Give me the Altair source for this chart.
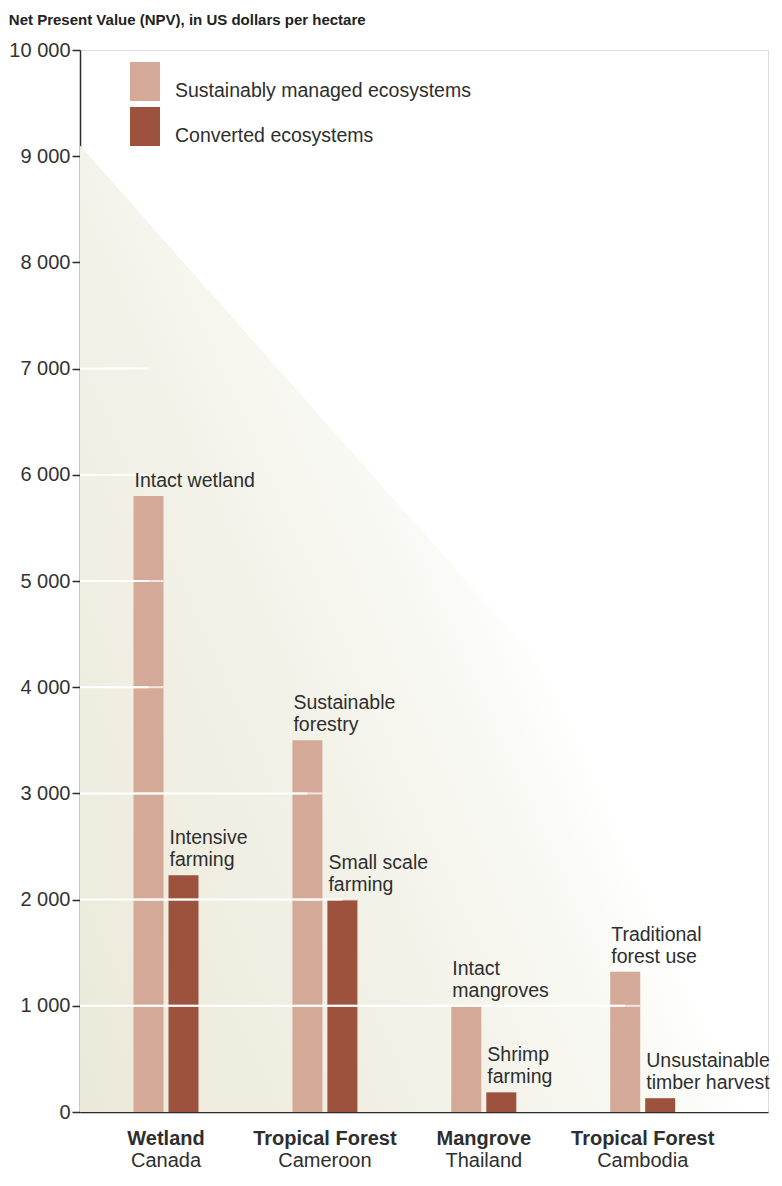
import altair as alt
import pandas as pd

# ---- data ----
groups = ["Canada", "Cameroon", "Thailand", "Cambodia"]
ecosystems = ["Wetland", "Tropical Forest", "Mangrove", "Tropical Forest"]
types = ["Sustainably managed ecosystems", "Converted ecosystems"]
sustainable_values = [5800, 3500, 1000, 1320]
converted_values = [2230, 2000, 185, 130]
sustainable_labels = ["Intact wetland", "Sustainable\nforestry", "Intact\nmangroves", "Traditional\nforest use"]
converted_labels = ["Intensive\nfarming", "Small scale\nfarming", "Shrimp\nfarming", "Unsustainable\ntimber harvest"]
y_ticks = [0, 1000, 2000, 3000, 4000, 5000, 6000, 7000, 8000, 9000, 10000]
grid_ticks = [1000, 2000, 3000, 4000, 5000, 6000, 7000]
bg_x = [0, 1]
bg_y = [9100, 1800]

LIGHT = "#d4a997"
DARK = "#9c523c"
TXT = "#2e2e2e"
FONT = "Liberation Sans"

# ---- tables ----
rows = []
for i, g in enumerate(groups):
    for ti, (vals, labs) in enumerate([(sustainable_values, sustainable_labels),
                                       (converted_values, converted_labels)]):
        lines = labs[i].split("\n")
        rows.append({"group": g, "type": types[ti], "value": vals[i],
                     "upper": lines[0] if len(lines) > 1 else "",
                     "lower": lines[-1], "ti": ti, "gi": i})
bars_df = pd.DataFrame(rows)

grid_rows = []
for t in grid_ticks:
    reach = [r for r in rows if r["value"] >= t]
    last = max(reach, key=lambda r: (r["gi"], r["ti"])) if reach else rows[0]
    grid_rows.append({"tick": t, "end_group": last["group"], "end_type": last["type"]})
grid_df = pd.DataFrame(grid_rows)

tick_rows = []
for r in rows:
    for t in grid_ticks:
        if t <= r["value"]:
            tick_rows.append({"group": r["group"], "type": r["type"], "tick": t})
tick_df = pd.DataFrame(tick_rows)

xlab_df = pd.DataFrame({"group": groups, "eco": ecosystems})
bg_df = pd.DataFrame({"bx": bg_x, "by": bg_y})

W, H = 688, 1062

xscale = alt.Scale(domain=groups, paddingInner=0.591, paddingOuter=0.4603, align=0.3657)
xoff = alt.Scale(domain=types, paddingInner=1 / 7, paddingOuter=0)
yscale = alt.Scale(domain=[0, 10000], nice=False, zero=True)
xaxis = alt.Axis(title=None, labels=False, ticks=False, grid=False,
                 domainColor="#2a2a2a", domainWidth=1.5)
yaxis = alt.Axis(title=None, values=y_ticks, grid=False,
                 labelExpr="replace(format(datum.value, ','), ',', ' ')",
                 tickSize=8, tickColor="#2a2a2a", tickWidth=1.5,
                 domainColor="#2a2a2a", domainWidth=1.5,
                 labelFontSize=20, labelFont=FONT, labelColor="#333333", labelPadding=2)

X = alt.X("group:N", scale=xscale, axis=xaxis)
XO = alt.XOffset("type:N", scale=xoff)

bg = alt.Chart(bg_df).mark_area(
    color=alt.LinearGradient(
        gradient="linear",
        stops=[alt.GradientStop(color="#ebe9d8", offset=0),
               alt.GradientStop(color="#f2f1e7", offset=0.55),
               alt.GradientStop(color="#fafaf6", offset=0.9),
               alt.GradientStop(color="#ffffff", offset=1)],
        x1=0, y1=1, x2=0.7, y2=0.56),
).encode(
    x=alt.X("bx:Q", scale=alt.Scale(domain=[0, 1], nice=False, zero=False), axis=None),
    y=alt.Y("by:Q", scale=yscale, axis=yaxis),
)

bars = alt.Chart(bars_df).mark_bar().encode(
    x=X, xOffset=XO,
    y=alt.Y("value:Q", scale=yscale, axis=yaxis),
    color=alt.Color("type:N", scale=alt.Scale(domain=types, range=[LIGHT, DARK]),
                    legend=alt.Legend(orient="none", legendX=45.5, legendY=12, title=None,
                                      symbolType="M-0.77,-1H0.77V1H-0.77Z", symbolSize=1521,
                                      symbolStrokeWidth=0, labelFontSize=19.5, labelFont=FONT,
                                      labelColor=TXT, labelOffset=10.5, rowPadding=6, padding=0,
                                      labelLimit=500, labelBaseline="top")),
)

grid_rule = alt.Chart(grid_df).mark_rule(color="white", strokeWidth=2).encode(
    x=alt.X("end_group:N", scale=xscale, axis=xaxis),
    xOffset=alt.XOffset("end_type:N", scale=xoff),
    x2=alt.value(0),
    y=alt.Y("tick:Q", scale=yscale, axis=yaxis),
)

grid_tick = alt.Chart(tick_df).mark_tick(color="white", thickness=2, size=30).encode(
    x=X, xOffset=XO,
    y=alt.Y("tick:Q", scale=yscale, axis=yaxis),
)

note_style = dict(align="left", baseline="bottom", dx=-14, fontSize=19.5, font=FONT, color=TXT)

notes_lower = alt.Chart(bars_df).mark_text(dy=-5, **note_style).encode(
    x=X, xOffset=XO,
    y=alt.Y("value:Q", scale=yscale, axis=yaxis),
    text="lower:N",
)
notes_upper = alt.Chart(bars_df).mark_text(dy=-27, **note_style).encode(
    x=X, xOffset=XO,
    y=alt.Y("value:Q", scale=yscale, axis=yaxis),
    text="upper:N",
)

xlab1 = alt.Chart(xlab_df).mark_text(
    baseline="middle", fontSize=20, font=FONT, fontWeight="bold", color=TXT, dy=27,
).encode(x=X, y=alt.datum(0), text="eco:N")

xlab2 = alt.Chart(xlab_df).mark_text(
    baseline="middle", fontSize=20, font=FONT, color=TXT, dy=49,
).encode(x=X, y=alt.datum(0), text="group:N")

inner = alt.layer(bars, grid_rule, grid_tick, notes_lower, notes_upper, xlab1, xlab2)

chart = alt.layer(bg, inner).resolve_scale(x="independent").properties(
    width=W, height=H,
    padding={"left": 0, "top": 5, "right": 0, "bottom": 0},
    title=alt.Title("Net Present Value (NPV), in US dollars per hectare", anchor="start",
                    font=FONT, fontSize=15, fontWeight="bold",
                    color="#222222", offset=12),
).configure_view(stroke=None).configure(font=FONT)

chart.save("out.html", embed_options={"renderer": "svg", "actions": False})
